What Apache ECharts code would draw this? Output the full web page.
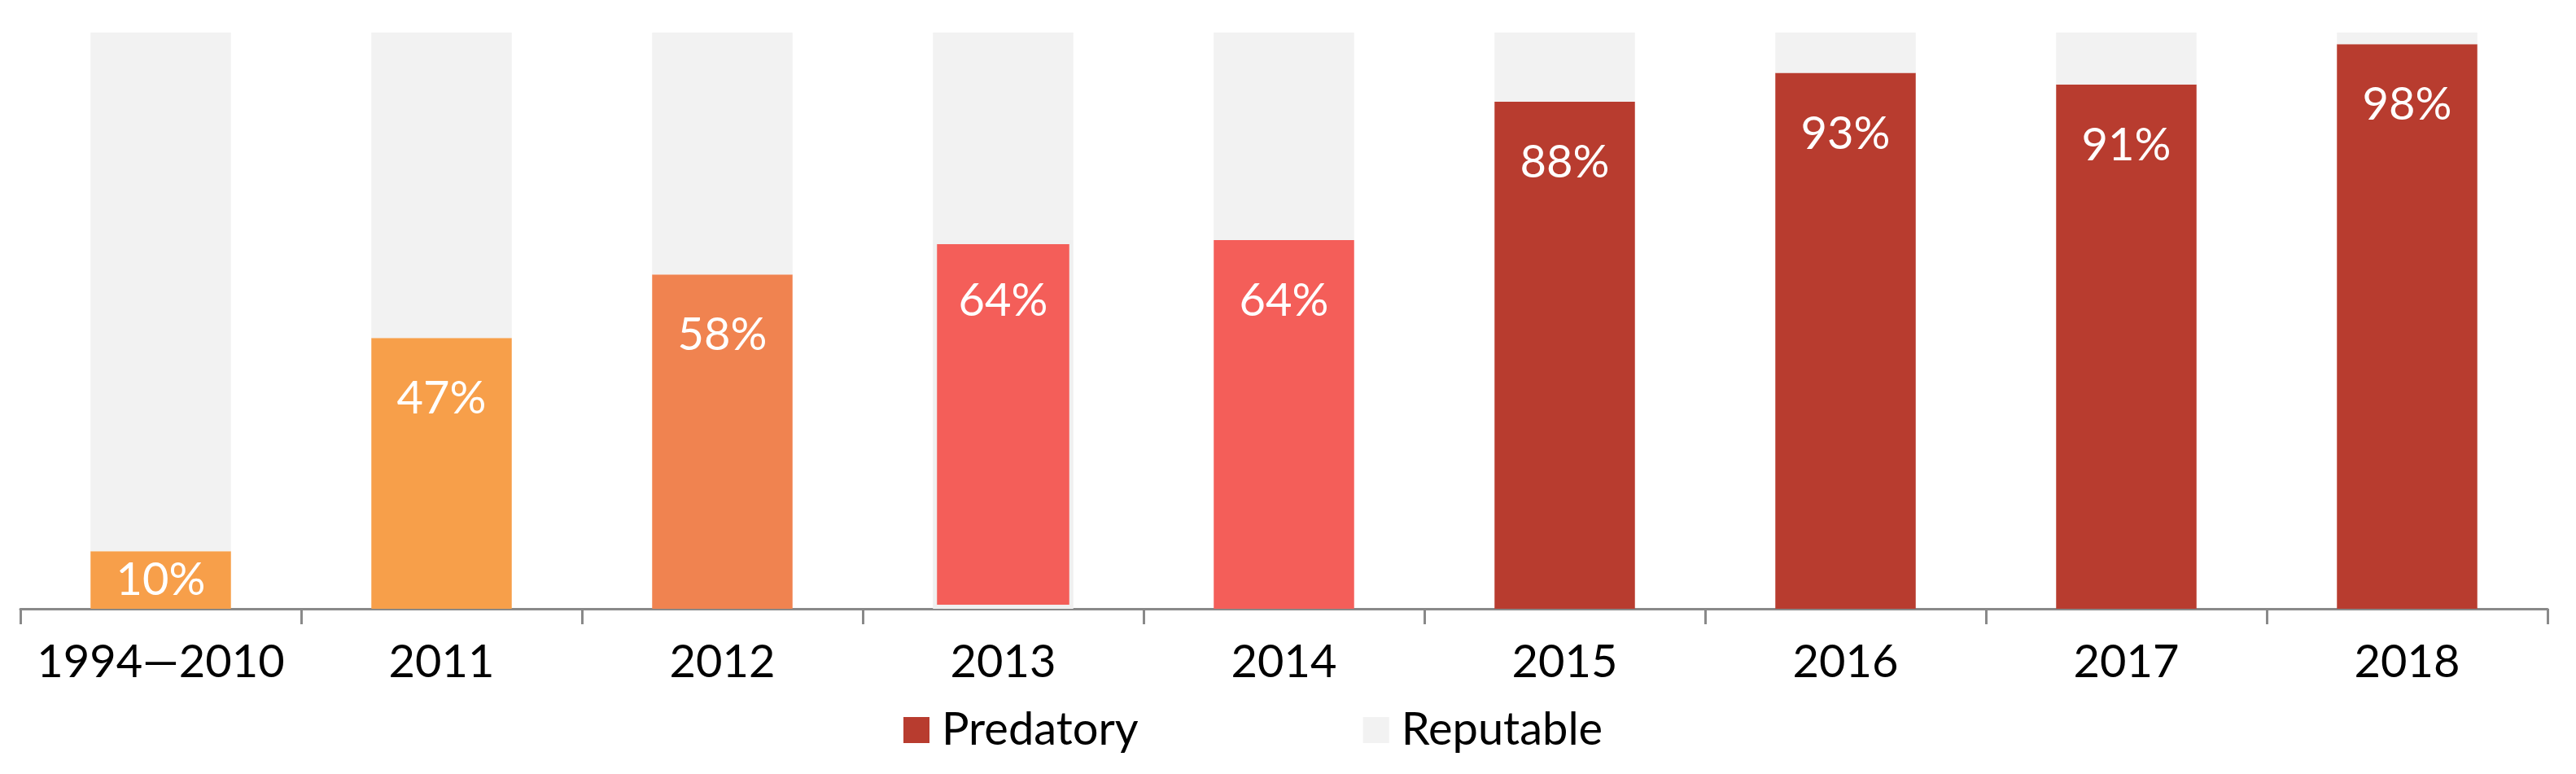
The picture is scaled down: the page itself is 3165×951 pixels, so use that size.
<!DOCTYPE html>
<html>
<head>
<meta charset="utf-8">
<script src="https://cdn.jsdelivr.net/npm/echarts@6/dist/echarts.min.js"></script>
<style>
html,body{margin:0;padding:0;background:#fff;}
#chart{width:3165px;height:951px;}
</style>
</head>
<body>
<div id="chart"></div>
<script>
const categories = ['1994\u20142010','2011','2012','2013','2014','2015','2016','2017','2018'];
const predatory = [10, 47, 58, 64, 64, 88, 93, 91, 98];
const reputable = [90, 53, 42, 36, 36, 12, 7, 9, 2];
const barColors = ['#F79F4A','#F79F4A','#F08350','#F45E59','#F45E59','#B83C2F','#B83C2F','#B83C2F','#B83C2F'];

const FONT = 'Lato';
const predData = predatory.map((v, i) => {
  const item = { value: v, itemStyle: { color: barColors[i] } };
  if (i === 0) item.label = { position: 'inside', distance: 0 };
  if (i === 3) { item.itemStyle.borderColor = '#F0F0F0'; item.itemStyle.borderWidth = 5; }
  return item;
});

const chart = echarts.init(document.getElementById('chart'), null, { renderer: 'canvas' });
chart.setOption({
  animation: false,
  backgroundColor: '#ffffff',
  grid: { left: 25, right: 35, top: 40, bottom: 203, containLabel: false },
  legend: {
    data: ['Predatory', 'Reputable'],
    left: 1105,
    top: 864,
    itemWidth: 32,
    itemHeight: 32,
    itemGap: 276,
    icon: 'rect',
    textStyle: { fontFamily: FONT, fontSize: 56, color: '#000', padding: [0, 0, 0, 10] }
  },
  xAxis: {
    type: 'category',
    data: categories,
    boundaryGap: true,
    axisLine: { lineStyle: { color: '#898989', width: 3 } },
    axisTick: { show: true, interval: 0, length: 19, lineStyle: { color: '#898989', width: 3 } },
    axisLabel: { interval: 0, fontFamily: FONT, fontSize: 56, color: '#000', margin: 38 }
  },
  yAxis: {
    type: 'value', min: 0, max: 100, show: false,
    splitLine: { show: false }
  },
  series: [
    {
      name: 'Predatory', type: 'bar', stack: 'total', barWidth: '50%',
      itemStyle: { color: '#B83C2F' },
      label: {
        show: true, position: 'insideTop', distance: 47,
        formatter: '{c}%', color: '#fff', fontFamily: FONT, fontSize: 56
      },
      data: predData
    },
    {
      name: 'Reputable', type: 'bar', stack: 'total', barWidth: '50%',
      itemStyle: { color: '#F2F2F2' },
      data: reputable
    }
  ]
});
</script>
</body>
</html>
